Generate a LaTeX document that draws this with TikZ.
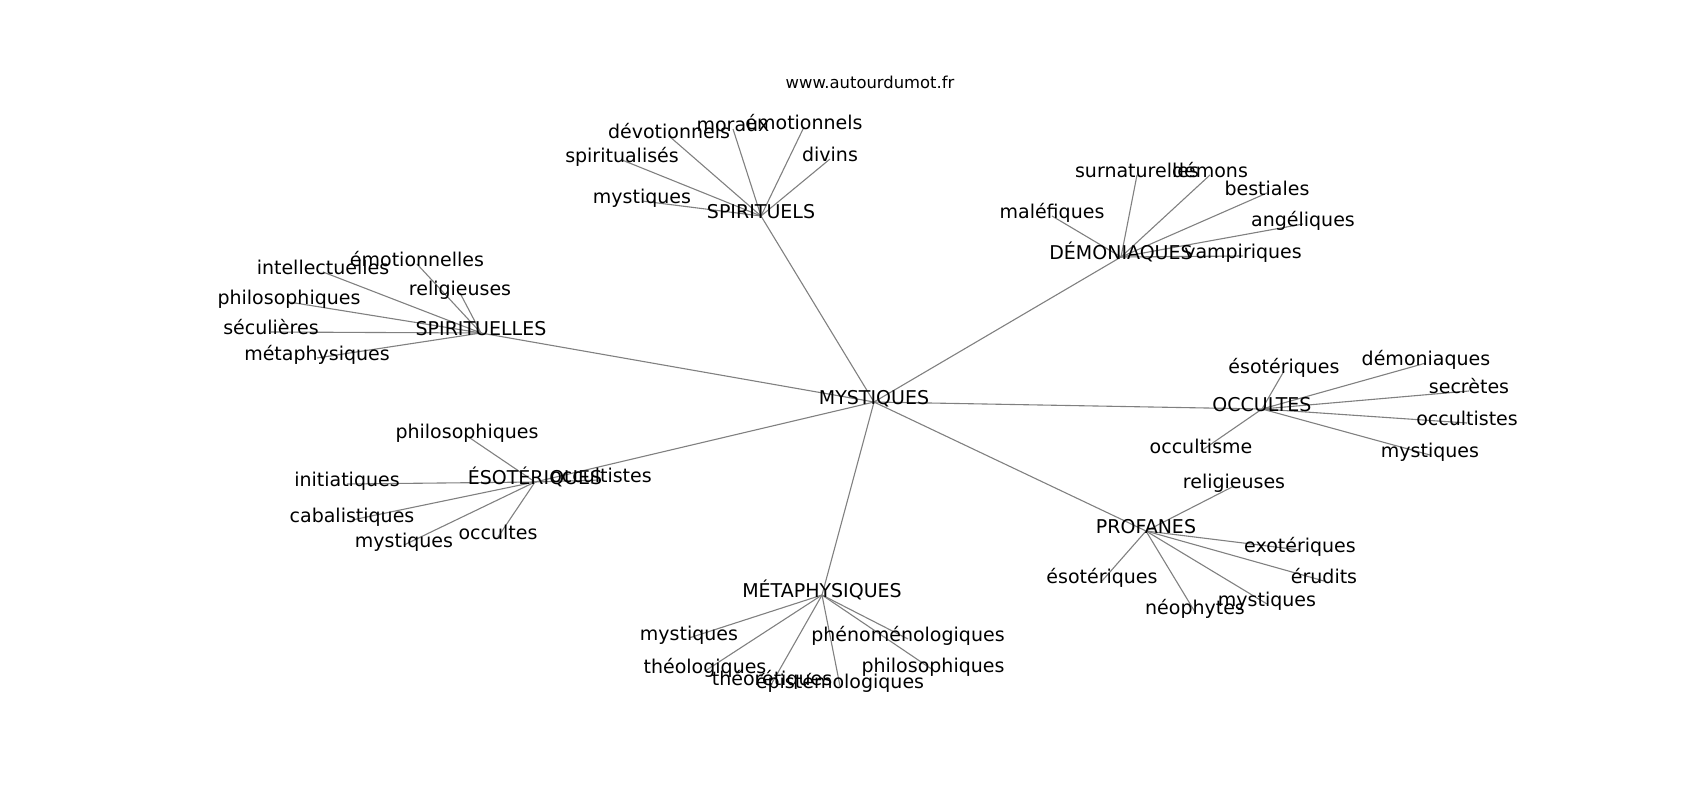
\documentclass[tikz,border=0pt]{standalone}
\usepackage{fontspec}
\setmainfont{DejaVu Sans}
\usepackage{tikz}
\usetikzlibrary{positioning}
\pgfdeclarelayer{edges}
\pgfsetlayers{edges,main}

\begin{document}
\begin{tikzpicture}[
    x=1pt, y=-1pt,
    word/.style={inner sep=0pt, anchor=center, text height=0.76em, text depth=0.21em, font=\fontsize{19}{23}\selectfont},
    title/.style={inner sep=0pt, anchor=center, font=\fontsize{16.4}{20}\selectfont},
    link/.style={draw=gray, line width=1.1pt}
]
    \useasboundingbox (0,0) rectangle (1700,800);

    \node[title] (site) at (870,82) {www.autourdumot.fr};

    % centre
    \node[word] (mystiques) at (874,402) {MYSTIQUES};

    % SPIRITUELS
    \node[word] (spirituels) at (761,216) {SPIRITUELS};
    \node[word] (sp1) at (642,201) {mystiques};
    \node[word] (sp2) at (622,160) {spiritualisés};
    \node[word] (sp3) at (669,136) {dévotionnels};
    \node[word] (sp4) at (733,129) {moraux};
    \node[word] (sp5) at (804,127) {émotionnels};
    \node[word] (sp6) at (830,159) {divins};

    % DEMONIAQUES
    \node[word] (demoniaques) at (1121,257) {DÉMONIAQUES};
    \node[word] (dm1) at (1137,175) {surnaturelles};
    \node[word] (dm2) at (1210,175) {démons};
    \node[word] (dm3) at (1267,193) {bestiales};
    \node[word] (dm4) at (1052,216) {maléfiques};
    \node[word] (dm5) at (1303,224) {angéliques};
    \node[word] (dm6) at (1243,256) {vampiriques};

    % SPIRITUELLES
    \node[word] (spirituelles) at (481,333) {SPIRITUELLES};
    \node[word] (sl1) at (417,264) {émotionnelles};
    \node[word] (sl2) at (323,272) {intellectuelles};
    \node[word] (sl3) at (460,293) {religieuses};
    \node[word] (sl4) at (289,302) {philosophiques};
    \node[word] (sl5) at (271,332) {séculières};
    \node[word] (sl6) at (317,358) {métaphysiques};

    % ESOTERIQUES
    \node[word] (esoteriques) at (535,482) {ÉSOTÉRIQUES};
    \node[word] (es1) at (467,436) {philosophiques};
    \node[word] (es2) at (347,484) {initiatiques};
    \node[word] (es3) at (352,520) {cabalistiques};
    \node[word] (es4) at (404,545) {mystiques};
    \node[word] (es5) at (498,537) {occultes};
    \node[word] (es6) at (601,480) {occultistes};

    % OCCULTES
    \node[word] (occultes) at (1262,409) {OCCULTES};
    \node[word] (oc1) at (1284,371) {ésotériques};
    \node[word] (oc2) at (1426,363) {démoniaques};
    \node[word] (oc3) at (1469,391) {secrètes};
    \node[word] (oc4) at (1467,423) {occultistes};
    \node[word] (oc5) at (1201,451) {occultisme};
    \node[word] (oc6) at (1430,455) {mystiques};

    % PROFANES
    \node[word] (profanes) at (1146,531) {PROFANES};
    \node[word] (pr1) at (1234,486) {religieuses};
    \node[word] (pr2) at (1300,550) {exotériques};
    \node[word] (pr3) at (1102,581) {ésotériques};
    \node[word] (pr4) at (1324,581) {érudits};
    \node[word] (pr5) at (1267,604) {mystiques};
    \node[word] (pr6) at (1195,612) {néophytes};

    % METAPHYSIQUES
    \node[word] (metaphysiques) at (822,595) {MÉTAPHYSIQUES};
    \node[word] (mt1) at (689,638) {mystiques};
    \node[word] (mt2) at (908,639) {phénoménologiques};
    \node[word] (mt3) at (705,671) {théologiques};
    \node[word] (mt4) at (933,670) {philosophiques};
    \node[word] (mt5) at (772,683) {théorétiques};
    \node[word] (mt6) at (840,686) {épistémologiques};

    \begin{pgfonlayer}{edges}
    \draw[link] (mystiques.center) -- (spirituels.center);
    \draw[link] (mystiques.center) -- (demoniaques.center);
    \draw[link] (mystiques.center) -- (spirituelles.center);
    \draw[link] (mystiques.center) -- (esoteriques.center);
    \draw[link] (mystiques.center) -- (occultes.center);
    \draw[link] (mystiques.center) -- (profanes.center);
    \draw[link] (mystiques.center) -- (metaphysiques.center);

    \draw[link] (spirituels.center) -- (sp1.center);
    \draw[link] (spirituels.center) -- (sp2.center);
    \draw[link] (spirituels.center) -- (sp3.center);
    \draw[link] (spirituels.center) -- (sp4.center);
    \draw[link] (spirituels.center) -- (sp5.center);
    \draw[link] (spirituels.center) -- (sp6.center);

    \draw[link] (demoniaques.center) -- (dm1.center);
    \draw[link] (demoniaques.center) -- (dm2.center);
    \draw[link] (demoniaques.center) -- (dm3.center);
    \draw[link] (demoniaques.center) -- (dm4.center);
    \draw[link] (demoniaques.center) -- (dm5.center);
    \draw[link] (demoniaques.center) -- (dm6.center);

    \draw[link] (spirituelles.center) -- (sl1.center);
    \draw[link] (spirituelles.center) -- (sl2.center);
    \draw[link] (spirituelles.center) -- (sl3.center);
    \draw[link] (spirituelles.center) -- (sl4.center);
    \draw[link] (spirituelles.center) -- (sl5.center);
    \draw[link] (spirituelles.center) -- (sl6.center);

    \draw[link] (esoteriques.center) -- (es1.center);
    \draw[link] (esoteriques.center) -- (es2.center);
    \draw[link] (esoteriques.center) -- (es3.center);
    \draw[link] (esoteriques.center) -- (es4.center);
    \draw[link] (esoteriques.center) -- (es5.center);
    \draw[link] (esoteriques.center) -- (es6.center);

    \draw[link] (occultes.center) -- (oc1.center);
    \draw[link] (occultes.center) -- (oc2.center);
    \draw[link] (occultes.center) -- (oc3.center);
    \draw[link] (occultes.center) -- (oc4.center);
    \draw[link] (occultes.center) -- (oc5.center);
    \draw[link] (occultes.center) -- (oc6.center);

    \draw[link] (profanes.center) -- (pr1.center);
    \draw[link] (profanes.center) -- (pr2.center);
    \draw[link] (profanes.center) -- (pr3.center);
    \draw[link] (profanes.center) -- (pr4.center);
    \draw[link] (profanes.center) -- (pr5.center);
    \draw[link] (profanes.center) -- (pr6.center);

    \draw[link] (metaphysiques.center) -- (mt1.center);
    \draw[link] (metaphysiques.center) -- (mt2.center);
    \draw[link] (metaphysiques.center) -- (mt3.center);
    \draw[link] (metaphysiques.center) -- (mt4.center);
    \draw[link] (metaphysiques.center) -- (mt5.center);
    \draw[link] (metaphysiques.center) -- (mt6.center);
    \end{pgfonlayer}
\end{tikzpicture}
\end{document}
